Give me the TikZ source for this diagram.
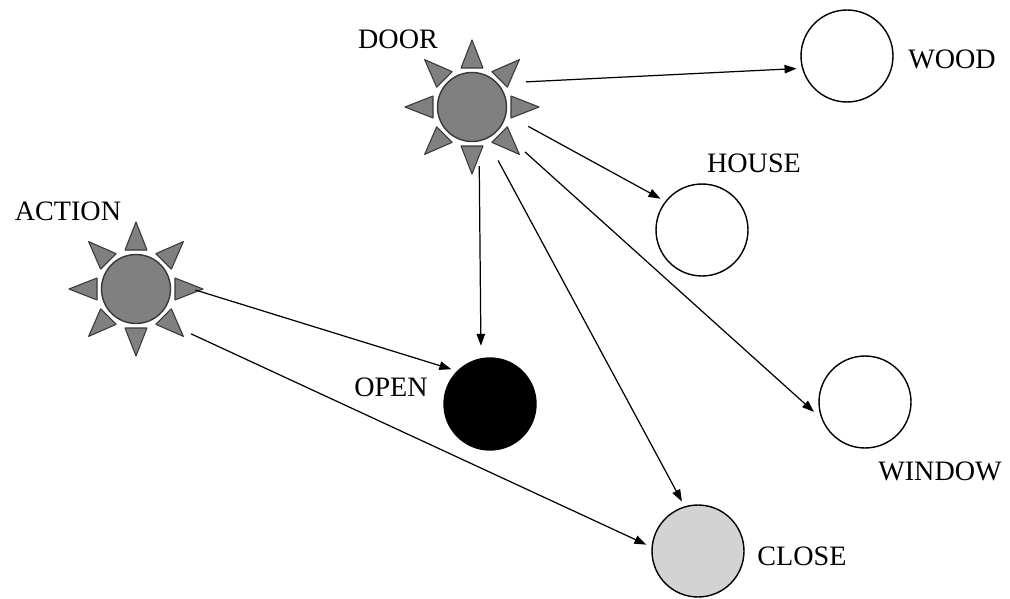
\documentclass[tikz,border=0pt]{standalone}
\usepackage{fontspec}
\setmainfont{Liberation Serif}
\usetikzlibrary{arrows.meta}
\definecolor{sungray}{HTML}{808080}
\definecolor{shut}   {HTML}{D3D3D3}
\definecolor{edge}   {HTML}{383838}

\begin{document}
\begin{tikzpicture}[x=0.02cm, y=-0.02cm,
  % The outer sep puts the anchors out past the rays, so the arrows
  % leave each sun clear of its spikes.
  sun/.style={circle, draw=edge, fill=sungray, line width=0.8pt,
              minimum size=1.38cm, inner sep=0pt, outer sep=0.5cm},
  ray/.style={draw=edge, fill=sungray, line width=0.6pt, line join=round},
  word/.style={circle, draw, line width=0.8pt, minimum size=1.84cm,
               inner sep=0pt, outer sep=0.12cm},
  tag/.style={font=\fontsize{16}{19}\selectfont},
  arr/.style={-{Triangle[length=2.4mm, width=1.7mm]}, line width=0.7pt}
]
\useasboundingbox (0,0) rectangle (1010,598);

\node[sun] (door)   at (472,107) {};
\node[sun] (action) at (136,289) {};
\foreach \s in {door, action}
  \foreach \a in {0,45,...,315}
    \draw[ray, shift={(\s.center)}, rotate=\a] (39,11) -- (67,0) -- (39,-11) -- cycle;

\node[word]             (wood)   at (847,56)  {};
\node[word]             (house)  at (702,230) {};
\node[word]             (window) at (865,402) {};
\node[word, fill=black] (open)   at (490,404) {};
\node[word, fill=shut]  (close)  at (698,551) {};

\node[tag] (doorlbl)   at (398,39)  {DOOR};
\node[tag] (actionlbl) at (68,211)  {ACTION};
\node[tag] (woodlbl)   at (952,59)  {WOOD};
\node[tag] (houselbl)  at (754,163) {HOUSE};
\node[tag] (openlbl)   at (391,387) {OPEN};
\node[tag] (windowlbl) at (940,471) {WINDOW};
\node[tag] (closelbl)  at (802,556) {CLOSE};

\draw[arr] (door.25)  -- (wood.194);
\draw[arr] (door.-19) -- (house.143);
\draw[arr, shorten <=0.2cm] (door.-40) -- (window.191);
\draw[arr, shorten >=0.14cm] (door.-83) -- (open.100);
\draw[arr] (door.-64) -- (close.108);
\draw[arr] (action.-1) -- (open.138);
\draw[arr, shorten <=0.24cm] (action.-42) -- (close.173);

\end{tikzpicture}
\end{document}
